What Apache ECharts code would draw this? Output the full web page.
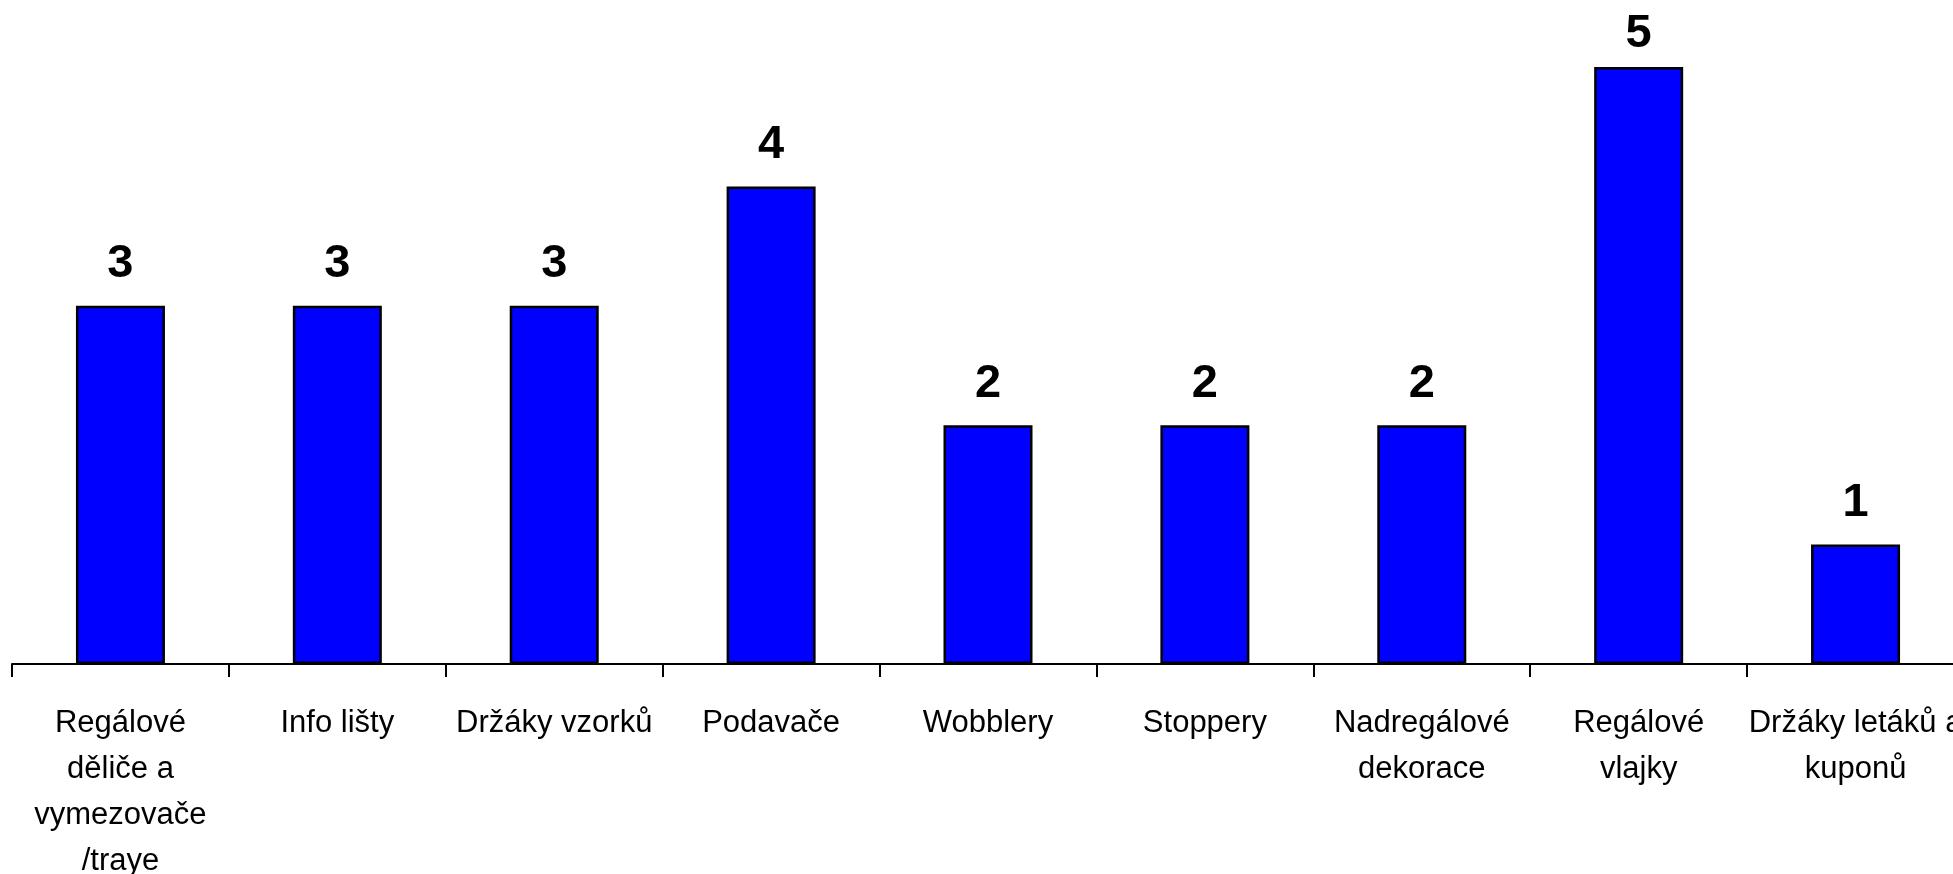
<!DOCTYPE html>
<html>
<head>
<meta charset="utf-8">
<script src="https://cdn.jsdelivr.net/npm/echarts@6/dist/echarts.min.js"></script>
<style>
html,body{margin:0;padding:0;background:#fff;}
#chart{width:1953px;height:874px;}
</style>
</head>
<body>
<div id="chart"></div>
<script>
const categories = [
  "Regálové\nděliče a\nvymezovače\n/traye",
  "Info lišty",
  "Držáky vzorků",
  "Podavače",
  "Wobblery",
  "Stoppery",
  "Nadregálové\ndekorace",
  "Regálové\nvlajky",
  "Držáky letáků a\nkuponů"
];
const values = [3, 3, 3, 4, 2, 2, 2, 5, 1];

const maxVal = Math.max(...values);
const seriesData = values.map(v => v === maxVal
  ? { value: v, label: { distance: 9 } }
  : v);

const chart = echarts.init(document.getElementById('chart'));
chart.setOption({
  animation: false,
  backgroundColor: '#ffffff',
  grid: { left: 12, width: 1952, top: 67, bottom: 210, containLabel: false, outerBoundsMode: 'none' },
  xAxis: {
    type: 'category',
    data: categories,
    boundaryGap: true,
    axisLine: { show: true, lineStyle: { color: '#000', width: 2 } },
    axisTick: { show: true, length: 13, alignWithLabel: false, lineStyle: { color: '#000', width: 2 } },
    axisLabel: {
      interval: 0,
      color: '#000',
      fontFamily: '"Liberation Sans Narrow", "Arial Narrow", "Liberation Sans", Arial, sans-serif',
      fontSize: 31,
      lineHeight: 46,
      margin: 36,
      align: 'center',
      hideOverlap: false
    }
  },
  yAxis: {
    type: 'value',
    min: 0,
    max: 5,
    show: false,
    splitLine: { show: false }
  },
  series: [{
    type: 'bar',
    data: seriesData,
    barWidth: 89,
    itemStyle: { color: '#0000FF', borderColor: '#000', borderWidth: 2.5 },
    label: {
      show: true,
      position: 'top',
      distance: 18,
      color: '#000',
      fontFamily: '"Liberation Sans", Arial, sans-serif',
      fontWeight: 'bold',
      fontSize: 47
    }
  }]
});
</script>
</body>
</html>
